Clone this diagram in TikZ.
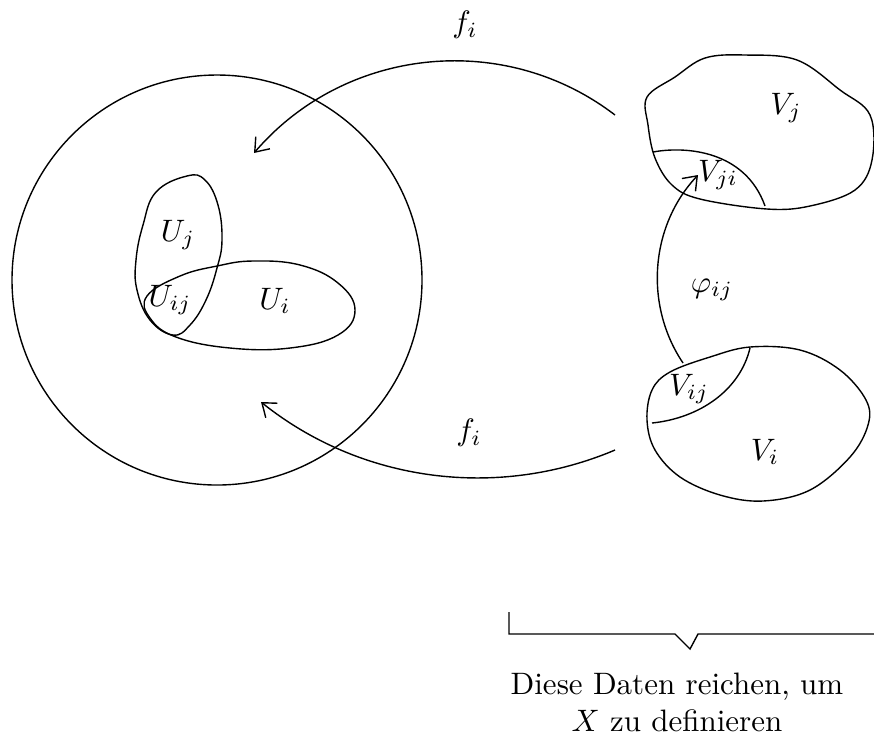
\documentclass[tikz,border=0pt]{standalone}
\usepackage{amsmath,amssymb}
\usetikzlibrary{arrows.meta, positioning}

\begin{document}
\begin{tikzpicture}[
  x=0.01134cm, y=-0.01134cm,
  node distance=0.4cm,
  blob/.style={line width=0.45pt},
  arrow/.style={line width=0.45pt, -{Straight Barb[length=4pt, width=6pt]}},
  lbl/.style={inner sep=1pt}]
  \useasboundingbox (0,0) rectangle (874,751);
  % the manifold X and the charts U_i, U_j
  \draw[blob] (217,280) circle[radius=205];
  \draw[blob] plot[smooth cycle, tension=0.7] coordinates {(156,192) (187,176) (205,180) (218,205) (222,240) (217,268) (206,300) (190,325) (173,335) (150,320) (137,290) (136,260) (143,225)};
  \draw[blob] plot[smooth cycle, tension=0.7] coordinates {(147,296) (180,276) (217,266) (253,261) (300,265) (338,283) (355,310) (338,335) (290,348) (230,348) (176,337) (150,318)};
  \node[lbl] (uj) at (178,235) {$U_j$};
  \node[lbl] (uij) at (170,300) {$U_{ij}$};
  \node[lbl] (ui) at (275,301) {$U_i$};
  % the pieces V_j and V_i
  \draw[blob] plot[smooth cycle, tension=0.6] coordinates {(647,97) (675,77) (705,58) (745,55) (797,60) (840,90) (870,115) (872,160) (855,190) (810,206) (767,209) (700,199) (672,185) (655,158) (648,125)};
  \draw[blob] (653,152) .. controls (685,146) and (745,150) .. (765,206);
  \draw[blob] plot[smooth cycle, tension=0.6] coordinates {(670,372) (710,357) (750,347) (800,350) (840,370) (866,400) (868,425) (850,457) (810,490) (763,501) (720,495) (680,477) (655,450) (647,420) (652,390)};
  \draw[blob] (652,423) .. controls (700,418) and (740,390) .. (750,348);
  \node[lbl] (vj) at (786,108) {$V_j$};
  \node[lbl] (vji) at (718,175) {$V_{ji}$};
  \node[lbl] (vij) at (689,389) {$V_{ij}$};
  \node[lbl] (vi) at (765,452) {$V_i$};
  % maps
  \coordinate (fa) at (615,115);
  \coordinate (fb) at (254,153);
  \coordinate (fc) at (615,450);
  \coordinate (fd) at (261,402);
  \coordinate (pa) at (683,363);
  \coordinate (pb) at (698,175);
  \draw[arrow] (fa) .. controls (504,30) and (345,47) .. (fb);
  \draw[arrow] (fc) .. controls (497,500) and (361,482) .. (fd);
  \draw[arrow] (pa) .. controls (644,305) and (650,226) .. (pb);
  \node[lbl] (f1) at (465,25) {$f_i$};
  \node[lbl] (f2) at (469,433) {$f_i$};
  \node[lbl] (phi) at (712,290) {$\varphi_{ij}$};
  % brace below the data
  \coordinate (brk) at (690,649);
  \draw[blob] (509,612) -- (509,634) -- (675,634) -- (brk) -- (698,634) -- (874,634);
  \node[below=0.15cm of brk, xshift=-4.2pt, align=center] (txt) {Diese Daten reichen, um\\[0pt] $X$ zu definieren};
\end{tikzpicture}
\end{document}
